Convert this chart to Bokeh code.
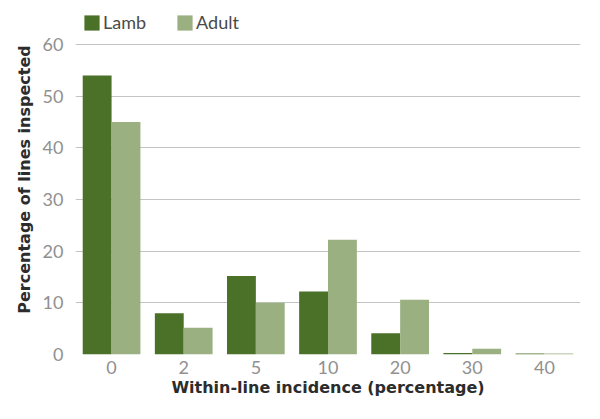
from bokeh.plotting import figure
from bokeh.models import FactorRange, Legend, LegendItem, ColumnDataSource
from bokeh.transform import dodge
from bokeh.embed import file_html
from bokeh.resources import INLINE

categories = ["0", "2", "5", "10", "20", "30", "40"]
lamb = [54, 8, 15.2, 12.2, 4.1, 0.3, 0.2]
adult = [45, 5.2, 10, 22.2, 10.6, 1.1, 0.2]
y_ticks = [0, 10, 20, 30, 40, 50, 60]

src = ColumnDataSource(dict(cat=categories, lamb=lamb, adult=adult))

# frame spans 350 px; 60 units = 310 px -> top of range leaves room for legend
p = figure(x_range=FactorRange(*categories, range_padding=0), y_range=(0, 67.74),
           width=584, height=403, output_backend="svg", toolbar_location=None,
           min_border_left=75, min_border_right=4, min_border_top=4, min_border_bottom=49)
p.outline_line_color = None
p.background_fill_color = "white"

r1 = p.vbar(x=dodge("cat", -0.2, range=p.x_range), top="lamb", width=0.4, source=src,
            fill_color="#4b7128", line_color=None)
r2 = p.vbar(x=dodge("cat", 0.2, range=p.x_range), top="adult", width=0.4, source=src,
            fill_color="#9bb081", line_color=None)

p.xgrid.grid_line_color = None
p.ygrid.grid_line_color = "#c4c4c4"
p.ygrid.grid_line_width = 1
p.yaxis.ticker = y_ticks
for ax in (p.xaxis, p.yaxis):
    ax.axis_line_color = None
    ax.major_tick_line_color = None
    ax.minor_tick_line_color = None
    ax.major_label_text_font = "Lato"
    ax.major_label_text_color = "#909090"
    ax.major_label_text_font_size = "18px"
    ax.axis_label_text_font = "DejaVu Sans"
    ax.axis_label_text_font_style = "bold"
    ax.axis_label_text_color = "#2c2c2c"
    ax.axis_label_text_font_size = "16px"
p.yaxis.major_label_standoff = 6
p.xaxis.major_label_standoff = 0
p.xaxis.axis_label = "Within-line incidence (percentage)"
p.yaxis.axis_label = "Percentage of lines inspected"
p.xaxis.axis_label_standoff = 1
p.yaxis.axis_label_standoff = 6

legend = Legend(items=[LegendItem(label="Lamb", renderers=[r1]),
                       LegendItem(label="Adult", renderers=[r2])],
                orientation="horizontal", location=(7, 321),
                label_text_font="Lato", label_text_font_size="18px", label_text_color="#4a4a4a",
                glyph_width=19, glyph_height=19, label_standoff=2, spacing=29,
                border_line_color=None, background_fill_alpha=0, padding=0, margin=0)
p.add_layout(legend)

open("out.html", "w").write(file_html(p, INLINE))
